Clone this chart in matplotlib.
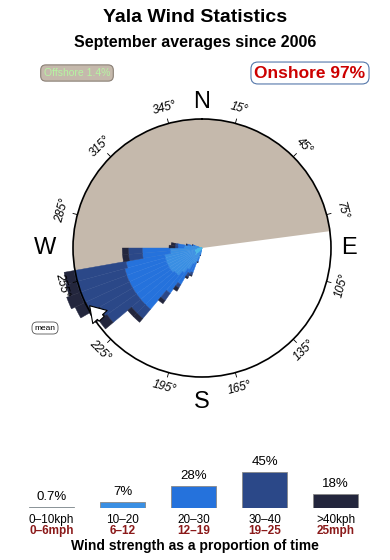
import numpy as np
import matplotlib
matplotlib.use('Agg')
import matplotlib.pyplot as plt

plt.rcParams['font.family'] = ['Liberation Sans', 'DejaVu Sans']

# wind direction bins (centre, degrees from north) and share of time per speed class (%)
dir_deg = [192.5, 197.5, 202.5, 207.5, 212.5, 217.5, 222.5, 227.5, 232.5, 237.5,
           242.5, 247.5, 252.5, 257.5, 262.5, 267.5, 272.5, 277.5, 282.5, 287.5]
spd_0_10 = [0.002, 0.006, 0.012, 0.007, 0.016, 0.030, 0.060, 0.060, 0.040, 0.040,
            0.040, 0.040, 0.040, 0.040, 0.020, 0.020, 0.010, 0.009, 0.007, 0.004]
spd_10_20 = [0.021, 0.058, 0.156, 0.200, 0.384, 0.563, 0.780, 0.780, 0.880, 0.890,
             0.880, 0.890, 0.880, 0.880, 0.630, 0.630, 0.199, 0.185, 0.074, 0.032]
spd_20_30 = [0.018, 0.062, 0.271, 0.296, 0.737, 1.363, 3.260, 3.260, 3.170, 3.170,
             3.180, 3.180, 3.170, 2.880, 1.640, 1.640, 0.161, 0.185, 0.057, 0.022]
spd_30_40 = [0.000, 0.019, 0.104, 0.156, 0.224, 0.681, 1.330, 1.330, 4.530, 4.820,
             6.390, 6.720, 6.730, 7.030, 1.190, 1.190, 0.098, 0.092, 0.020, 0.006]
spd_40_up = [0.000, 0.000, 0.040, 0.082, 0.240, 0.326, 0.600, 0.600, 1.550, 1.910,
             2.060, 2.460, 1.910, 1.730, 0.590, 0.590, 0.230, 0.145, 0.007, 0.000]
bin_width = 5.0
circle_pct = 10.66   # share of time represented by the outer circle

offshore_from = 259.5
offshore_to = 82.5
mean_dir = 244

speed_share = [0.7, 7, 28, 45, 18]
share_labels = ['0.7%', '7%', '28%', '45%', '18%']
kph_labels = ['0\u201310kph', '10\u201320', '20\u201330', '30\u201340', '>40kph']
mph_labels = ['0\u20136mph', '6\u201312', '12\u201319', '19\u201325', '25mph']
colors = ['#4cb8e6', '#3a8fe3', '#2572dc', '#2b4888', '#23263d']

tick_deg = [15, 45, 75, 105, 135, 165, 195, 225, 255, 285, 315, 345]
compass = ['N', 'E', 'S', 'W']
compass_deg = [0, 90, 180, 270]
compass_r = [1.13, 1.14, 1.19, 1.22]

W, H = 390, 560
fig = plt.figure(figsize=(W / 100, H / 100), dpi=100)

fig.text(0.5, 1 - 18 / H, 'Yala Wind Statistics', ha='center', va='center',
         fontsize=14, fontweight='bold')
fig.text(0.5, 1 - 43 / H, 'September averages since 2006', ha='center', va='center',
         fontsize=11.5, fontweight='bold')
fig.text(77 / W, 1 - 73 / H, 'Offshore 1.4%', ha='center', va='center', fontsize=7.5,
         color='#b6f5a2',
         bbox=dict(boxstyle='round,pad=0.3,rounding_size=0.5', fc='#c5b9ac', ec='#8a7f75', lw=0.8))
fig.text(310 / W, 1 - 73 / H, 'Onshore 97%', ha='center', va='center', fontsize=12.5,
         fontweight='bold', color='#cc0000',
         bbox=dict(boxstyle='round,pad=0.2,rounding_size=0.4', fc='white', ec='#5577aa', lw=0.8))

# --- rose ---
cx, cy, R = 202, 248, 129
ax = fig.add_axes([(cx - R) / W, 1 - (cy + R) / H, 2 * R / W, 2 * R / H], projection='polar')
ax.set_theta_zero_location('N')
ax.set_theta_direction(-1)
rmax = np.sqrt(circle_pct)
ax.set_ylim(0, rmax)
ax.set_xticks([])
ax.set_yticks([])
ax.grid(False)
ax.spines['polar'].set_linewidth(1.2)
ax.set_facecolor('white')

# offshore sector
span = (offshore_to - offshore_from) % 360
ax.bar(np.radians(offshore_from + span / 2), rmax, width=np.radians(span),
       color='#c5b9ac', edgecolor='none', zorder=1)

# stacked bars, radius = sqrt of cumulative share (area-true rose)
th = np.radians(dir_deg)
wd = np.radians(bin_width)
cum = np.zeros(len(dir_deg))
for vals, c in zip([spd_0_10, spd_10_20, spd_20_30, spd_30_40, spd_40_up], colors):
    new = cum + np.array(vals)
    b = ax.bar(th, np.sqrt(new) - np.sqrt(cum), width=wd, bottom=np.sqrt(cum),
               color=c, edgecolor=c, linewidth=0.3, zorder=2)
    for p in b:
        p.set_clip_on(False)
    cum = new

# mean direction arrow
ax.annotate('', xy=(np.radians(mean_dir), 0.985 * rmax),
            xytext=(np.radians(mean_dir - 10.5), 0.95 * rmax),
            arrowprops=dict(arrowstyle='simple,head_width=1.4,head_length=1.1,tail_width=0.5',
                            fc='white', ec='black', lw=0.8), zorder=5, annotation_clip=False)
fig.text(45 / W, 1 - 328 / H, 'mean', ha='center', va='center', fontsize=6,
         bbox=dict(boxstyle='round,pad=0.3,rounding_size=0.6', fc='white', ec='#555555', lw=0.6))

for d in tick_deg:
    t = np.radians(d)
    ax.plot([t, t], [rmax, rmax * 1.035], color='black', lw=0.6, clip_on=False)
    rot = -d
    if 90 < d < 270:
        rot = -d + 180
    ax.text(t, rmax * 1.12, f'{d}\u00b0', ha='center', va='center', rotation=rot,
            rotation_mode='anchor', fontsize=8.5, fontstyle='italic', clip_on=False)

for lab, d, rr in zip(compass, compass_deg, compass_r):
    ax.text(np.radians(d), rmax * rr, lab, ha='center', va='center', fontsize=17,
            clip_on=False)

# --- speed share bars ---
bx = fig.add_axes([16 / W, 1 - 508 / H, 355 / W, 60 / H])
xs = np.arange(1, 6)
bx.bar(xs, speed_share, width=0.63, color=colors, edgecolor='#888888', linewidth=0.6)
bx.set_xlim(0.5, 5.5)
bx.set_ylim(0, 75)
bx.axis('off')
for x, v, s, k, m in zip(xs, speed_share, share_labels, kph_labels, mph_labels):
    bx.annotate(s, (x, v), xytext=(0, 10), textcoords='offset pixels', ha='center',
                va='center', fontsize=9.5, annotation_clip=False)
    bx.annotate(k, (x, 0), xytext=(0, -12), textcoords='offset pixels', ha='center',
                va='center', fontsize=8.5, annotation_clip=False)
    bx.annotate(m, (x, 0), xytext=(0, -23), textcoords='offset pixels', ha='center',
                va='center', fontsize=8.5, fontweight='bold', color='#8b1a1a',
                annotation_clip=False)

fig.text(0.5, 1 - 546 / H, 'Wind strength as a proportion of time', ha='center',
         va='center', fontsize=10, fontweight='bold')

plt.savefig('out.png', dpi=100)
